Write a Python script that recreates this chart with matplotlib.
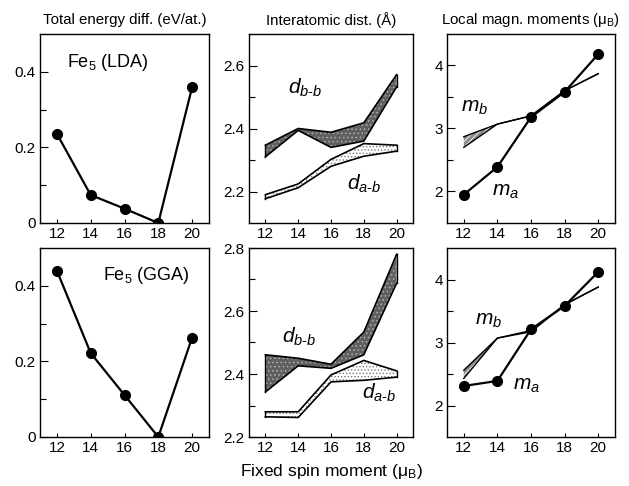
import numpy as np
import matplotlib.pyplot as plt

plt.rcParams['font.family'] = ['Liberation Sans', 'DejaVu Sans']
plt.rcParams['mathtext.fontset'] = 'custom'
plt.rcParams['mathtext.rm'] = 'Liberation Sans'
plt.rcParams['mathtext.it'] = 'Liberation Sans:italic'
plt.rcParams['hatch.linewidth'] = 0.6

spin = [12, 14, 16, 18, 20]

# total energy difference (eV/at.)
e_lda = [0.236, 0.074, 0.038, 0.0, 0.359]
e_gga = [0.440, 0.222, 0.111, 0.0, 0.263]

# interatomic distances (A): upper / lower edge of each band
dbb_lda_hi = [2.347, 2.400, 2.388, 2.418, 2.571]
dbb_lda_lo = [2.310, 2.394, 2.340, 2.360, 2.532]
dab_lda_hi = [2.190, 2.224, 2.302, 2.352, 2.347]
dab_lda_lo = [2.177, 2.212, 2.280, 2.312, 2.328]

dbb_gga_hi = [2.461, 2.450, 2.431, 2.533, 2.780]
dbb_gga_lo = [2.343, 2.426, 2.418, 2.461, 2.688]
dab_gga_hi = [2.280, 2.280, 2.397, 2.443, 2.410]
dab_gga_lo = [2.264, 2.262, 2.375, 2.380, 2.390]

# local magnetic moments (muB)
ma_lda = [1.95, 2.39, 3.18, 3.58, 4.18]
mb_lda_hi = [2.87, 3.07, 3.20, 3.60, 3.87]
mb_lda_lo = [2.70, 3.07, 3.20, 3.60, 3.87]

ma_gga = [2.31, 2.39, 3.21, 3.58, 4.12]
mb_gga_hi = [2.56, 3.07, 3.19, 3.60, 3.88]
mb_gga_lo = [2.43, 3.07, 3.17, 3.60, 3.88]

W, H = 629, 486
fig = plt.figure(figsize=(W/100, H/100), dpi=100)

cols = [(40, 209), (249, 413), (447, 615)]
rows = [(34, 223), (248, 437)]

def make_ax(c, r):
    x0, x1 = cols[c]
    y0, y1 = rows[r]
    ax = fig.add_axes([x0/W, 1 - y1/H, (x1-x0)/W, (y1-y0)/H])
    ax.set_xlim(11, 21)
    ax.set_xticks(spin)
    ax.tick_params(direction='in', labelsize=11, width=0.8)
    ax.tick_params(axis='x', length=3, pad=3)
    ax.tick_params(axis='y', which='major', length=6, pad=3)
    ax.tick_params(axis='y', which='minor', length=4, width=0.8, direction='in')
    for s in ax.spines.values():
        s.set_linewidth(1.0)
    return ax

def band(ax, hi, lo, face, hatch, hcol):
    ax.fill_between(spin, lo, hi, facecolor=face, hatch=hatch,
                    edgecolor=hcol, linewidth=0)
    ax.plot(spin, hi, color='black', lw=1.2)
    ax.plot(spin, lo, color='black', lw=1.2)
    ax.plot([spin[0], spin[0]], [lo[0], hi[0]], color='black', lw=1.0)
    ax.plot([spin[-1], spin[-1]], [lo[-1], hi[-1]], color='black', lw=1.0)

energies = [e_lda, e_gga]
labels = [('Fe$_5$ (LDA)', 12.6, 0.412), ('Fe$_5$ (GGA)', 14.7, 0.415)]
for r in range(2):
    ax = make_ax(0, r)
    ax.plot(spin, energies[r], color='black', lw=1.6, marker='o', ms=7)
    ax.set_ylim(0, 0.5)
    ax.set_yticks([0, 0.2, 0.4])
    ax.set_yticklabels(['0', '0.2', '0.4'])
    ax.set_yticks([0.1, 0.3], minor=True)
    ax.text(labels[r][1], labels[r][2], labels[r][0], fontsize=13)

# distances
dist = [(dbb_lda_hi, dbb_lda_lo, dab_lda_hi, dab_lda_lo),
        (dbb_gga_hi, dbb_gga_lo, dab_gga_hi, dab_gga_lo)]
dlims = [(2.1, 2.7), (2.2, 2.8)]
dlab_bb = [(13.4, 2.51), (13.0, 2.50)]
dlab_ab = [(17.0, 2.205), (17.9, 2.322)]
for r in range(2):
    ax = make_ax(1, r)
    bbh, bbl, abh, abl = dist[r]
    band(ax, bbh, bbl, '#606060', '....', '#b0b0b0')
    band(ax, abh, abl, 'white', '.....', '#777777')
    ax.set_ylim(*dlims[r])
    if r == 0:
        ax.set_yticks([2.2, 2.4, 2.6])
        ax.set_yticks([2.3, 2.5], minor=True)
    else:
        ax.set_yticks([2.2, 2.4, 2.6, 2.8])
        ax.set_yticks([2.3, 2.5, 2.7], minor=True)
    ax.text(*dlab_bb[r], r'$d_{b\text{-}b}$', fontsize=15)
    ax.text(*dlab_ab[r], r'$d_{a\text{-}b}$', fontsize=15)

# moments
mom = [(ma_lda, mb_lda_hi, mb_lda_lo), (ma_gga, mb_gga_hi, mb_gga_lo)]
mlab_b = [(11.85, 3.27), (12.65, 3.29)]
mlab_a = [(13.7, 1.93), (14.9, 2.25)]
for r in range(2):
    ax = make_ax(2, r)
    ma, mbh, mbl = mom[r]
    ax.fill_between(spin, mbl, mbh, facecolor='#888888', hatch='//////',
                    edgecolor='white', linewidth=0)
    ax.plot(spin, mbh, color='black', lw=1.0)
    ax.plot(spin, mbl, color='black', lw=1.0)
    ax.plot(spin, ma, color='black', lw=1.6, marker='o', ms=7)
    ax.set_ylim(1.5, 4.5)
    ax.set_yticks([2, 3, 4])
    ax.set_yticks([2.5, 3.5], minor=True)
    ax.text(*mlab_b[r], r'$m_b$', fontsize=15)
    ax.text(*mlab_a[r], r'$m_a$', fontsize=15)

titles = ['Total energy diff. (eV/at.)', 'Interatomic dist. (\u00c5)',
          r'Local magn. moments ($\mathregular{\mu_B}$)']
for c in range(3):
    x0, x1 = cols[c]
    fig.text((x0 + x1) / 2 / W, 1 - 20/H, titles[c], ha='center', va='center',
             fontsize=10.8)

fig.text(331/W, 1 - 471/H, r'Fixed spin moment ($\mathregular{\mu_B}$)',
         ha='center', va='center', fontsize=12.5)

fig.savefig('out.png', dpi=100)
